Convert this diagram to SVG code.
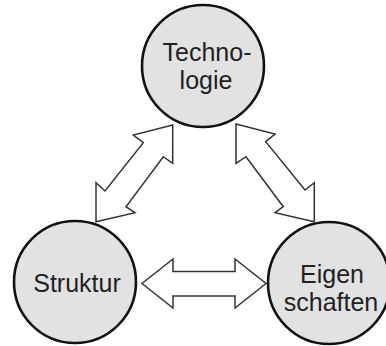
<svg xmlns="http://www.w3.org/2000/svg" width="386" height="346" viewBox="0 0 386 346">
<style>
.node{fill:#e2e2e2;stroke:#111;stroke-width:2.6}
.lbl{font-family:"Liberation Sans",Arial,sans-serif;font-size:25px;fill:#222;text-anchor:middle}
.arr{fill:#fff;stroke:#333;stroke-width:1.5;stroke-linejoin:miter}
</style>
<rect width="386" height="346" fill="#fff"/>
<g id="connectors">
<polygon class="arr" points="142,283.5 173,259 173,271.5 235,271.5 235,259 266,283.5 235,308 235,296 173,296 173,308"/>
<polygon class="arr" points="172.7,125 133.3,135 143.3,142.7 105,191 96,182.7 96,221.7 135,212.7 126,206.7 163.3,156.7 172.7,163.3"/>
<polygon class="arr" points="236,124 275,134 265.7,141.7 305,190 314.3,182.7 314.3,221.7 275,212.7 283.3,206.7 246,156.7 236,163.3"/>
</g>
<g id="technologie">
<circle class="node" cx="203" cy="66" r="61"/>
<text class="lbl" x="207" y="61">Techno-</text>
<text class="lbl" x="206" y="89">logie</text>
</g>
<g id="struktur">
<circle class="node" cx="75" cy="282" r="61"/>
<text class="lbl" x="77" y="292">Struktur</text>
</g>
<g id="eigenschaften">
<circle class="node" cx="329" cy="283" r="61"/>
<text class="lbl" x="332" y="283">Eigen</text>
<text class="lbl" x="331" y="311">schaften</text>
</g>
</svg>
